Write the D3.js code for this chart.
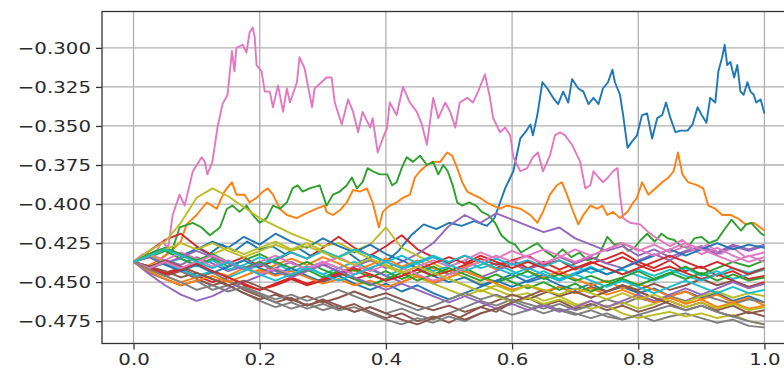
<!DOCTYPE html>
<html>
<head>
<meta charset="utf-8">
<script src="https://cdn.jsdelivr.net/npm/d3@7"></script>
<style>
  html, body { margin: 0; padding: 0; background: #fff; }
  svg { display: block; }
  text { font-family: "DejaVu Sans", sans-serif; fill: #2b2b2b; }
</style>
</head>
<body>
<svg id="chart" width="784" height="369"></svg>
<script>
// ---------- data ----------
const xTicks = [0, 0.2, 0.4, 0.6, 0.8, 1.0];
const xTickLabels = ["0.0", "0.2", "0.4", "0.6", "0.8", "1.0"];
const yTicks = [-0.475, -0.45, -0.425, -0.4, -0.375, -0.35, -0.325, -0.3];
const yTickLabels = ["\u22120.475", "\u22120.450", "\u22120.425", "\u22120.400", "\u22120.375", "\u22120.350", "\u22120.325", "\u22120.300"];
const palette = ["#1f77b4","#ff7f0e","#2ca02c","#d62728","#9467bd","#8c564b","#e377c2","#7f7f7f","#bcbd22","#17becf"];

// shared step positions for the cluster series
const stepX = [0,.025,.05,.075,.1,.125,.15,.175,.2,.225,.25,.275,.3,.325,.35,.375,.4,.425,.45,.475,.5,.525,.55,.575,.6,.625,.65,.675,.7,.725,.75,.775,.8,.825,.85,.875,.9,.925,.95,.975,1];

// prominent traced series
const blueX = [0,.02,.04,.06,.08,.10,.12,.14,.16,.18,.20,.22,.24,.26,.28,.30,.32,.34,.36,.38,.40,.42,.44,.46,.48,.50,.52,.54,.56,.572,.581,.589,.602,.613,.621,.629,.633,.640,.648,.656,.665,.673,.681,.689,.695,.705,.713,.721,.729,.737,.744,.752,.759,.763,.771,.776,.783,.790,.798,.806,.814,.822,.830,.838,.844,.851,.859,.867,.878,.886,.894,.902,.908,.914,.922,.927,.933,.937,.941,.946,.952,.957,.962,.967,.973,.978,.983,.987,.994,1];
const blueY = [-.437,-.432,-.436,-.430,-.434,-.428,-.432,-.426,-.430,-.424,-.429,-.427,-.432,-.428,-.433,-.430,-.435,-.431,-.437,-.433,-.437,-.430,-.420,-.413,-.416,-.412,-.414,-.411,-.414,-.409,-.399,-.390,-.379,-.358,-.354,-.349,-.356,-.343,-.322,-.326,-.332,-.336,-.328,-.335,-.320,-.326,-.328,-.336,-.332,-.336,-.326,-.322,-.314,-.322,-.330,-.343,-.364,-.360,-.356,-.343,-.342,-.358,-.345,-.343,-.335,-.345,-.354,-.353,-.353,-.349,-.338,-.344,-.348,-.332,-.335,-.315,-.306,-.298,-.311,-.309,-.319,-.311,-.328,-.330,-.322,-.328,-.330,-.335,-.333,-.342];

const orangeX = [0,.02,.04,.06,.075,.084,.100,.116,.132,.144,.156,.163,.176,.184,.195,.205,.213,.221,.232,.243,.259,.268,.279,.290,.303,.306,.316,.327,.338,.348,.359,.370,.379,.389,.395,.406,.417,.427,.438,.446,.454,.465,.475,.486,.497,.505,.513,.521,.529,.538,.549,.560,.570,.581,.592,.602,.613,.629,.640,.649,.660,.671,.679,.687,.695,.705,.713,.724,.735,.743,.751,.760,.771,.783,.792,.798,.806,.816,.827,.838,.848,.856,.863,.870,.879,.894,.903,.911,.922,.933,.946,.957,.970,.983,1];
const orangeY = [-.437,-.440,-.436,-.430,-.424,-.413,-.407,-.399,-.403,-.392,-.386,-.394,-.394,-.399,-.396,-.392,-.390,-.394,-.403,-.407,-.409,-.407,-.405,-.403,-.401,-.405,-.407,-.404,-.399,-.391,-.392,-.390,-.399,-.415,-.405,-.401,-.399,-.396,-.394,-.383,-.379,-.375,-.373,-.373,-.367,-.369,-.377,-.386,-.392,-.394,-.396,-.399,-.401,-.403,-.401,-.402,-.403,-.407,-.412,-.405,-.394,-.388,-.386,-.394,-.403,-.413,-.407,-.401,-.403,-.401,-.407,-.405,-.409,-.405,-.399,-.396,-.386,-.394,-.390,-.386,-.383,-.379,-.367,-.381,-.386,-.388,-.390,-.401,-.403,-.407,-.407,-.409,-.413,-.412,-.417];

const greenX = [0,.02,.04,.06,.073,.094,.108,.121,.137,.148,.157,.168,.179,.189,.200,.211,.221,.232,.243,.252,.260,.268,.279,.295,.306,.316,.327,.338,.346,.354,.363,.371,.379,.390,.402,.410,.417,.425,.433,.443,.454,.465,.475,.483,.491,.498,.506,.513,.521,.532,.543,.552,.562,.573,.583,.594,.605,.614,.627,.640,.652,.667,.680,.694,.707,.719,.735,.743,.751,.762,.773,.784,.794,.804,.814,.826,.837,.847,.857,.868,.878,.889,.900,.912,.925,.937,.948,.956,.963,.971,.979,.988,.995,1];
const greenY = [-.437,-.433,-.429,-.431,-.415,-.412,-.415,-.420,-.415,-.403,-.401,-.405,-.401,-.407,-.412,-.409,-.401,-.403,-.399,-.390,-.388,-.392,-.390,-.388,-.401,-.394,-.392,-.388,-.383,-.390,-.386,-.377,-.379,-.381,-.381,-.388,-.386,-.377,-.370,-.373,-.369,-.375,-.373,-.381,-.375,-.379,-.388,-.399,-.401,-.399,-.401,-.405,-.407,-.412,-.420,-.424,-.426,-.431,-.428,-.425,-.430,-.434,-.429,-.434,-.431,-.436,-.434,-.428,-.421,-.426,-.425,-.430,-.428,-.423,-.419,-.424,-.419,-.422,-.423,-.427,-.428,-.422,-.421,-.425,-.423,-.416,-.410,-.414,-.417,-.413,-.412,-.416,-.419,-.420];

const pinkX = [0,.015,.03,.045,.055,.062,.073,.081,.094,.108,.113,.117,.125,.133,.141,.149,.156,.160,.163,.173,.179,.184,.189,.192,.195,.203,.208,.216,.221,.229,.237,.243,.248,.259,.263,.271,.283,.287,.298,.306,.314,.319,.330,.340,.348,.356,.363,.375,.379,.387,.395,.402,.406,.417,.427,.438,.449,.457,.465,.475,.483,.494,.502,.510,.517,.529,.538,.546,.557,.565,.570,.581,.589,.597,.602,.613,.624,.633,.641,.649,.660,.668,.676,.684,.695,.708,.716,.724,.729,.737,.744,.752,.760,.767,.771,.776,.787,.803,.816,.83,.85,.87,.89,.91,.93,.95,.97,1];
const pinkY = [-.437,-.432,-.435,-.424,-.428,-.407,-.394,-.401,-.379,-.370,-.373,-.381,-.373,-.351,-.336,-.330,-.302,-.315,-.300,-.298,-.303,-.290,-.287,-.293,-.311,-.315,-.328,-.328,-.338,-.324,-.341,-.326,-.335,-.322,-.306,-.313,-.338,-.326,-.322,-.319,-.319,-.335,-.349,-.333,-.341,-.354,-.341,-.351,-.345,-.367,-.358,-.351,-.335,-.343,-.325,-.335,-.341,-.349,-.362,-.332,-.345,-.335,-.341,-.351,-.335,-.332,-.335,-.328,-.317,-.332,-.345,-.354,-.351,-.356,-.370,-.379,-.377,-.370,-.367,-.379,-.369,-.356,-.354,-.356,-.362,-.373,-.390,-.388,-.379,-.383,-.386,-.383,-.379,-.377,-.394,-.409,-.412,-.413,-.418,-.422,-.427,-.423,-.430,-.426,-.432,-.428,-.434,-.431];

const olive8 = [-.437,-.430,-.424,-.412,-.396,-.390,-.395,-.402,-.409,-.414,-.419,-.423,-.427,-.425,-.430,-.426,-.415,-.428,-.433,-.438,-.443,-.447,-.451,-.455,-.459,-.457,-.462,-.459,-.464,-.467,-.465,-.470,-.473,-.471,-.469,-.472,-.470,-.473,-.471,-.475,-.477];

// cluster series (values at stepX)
const red3 = [-.437,-.430,-.423,-.419,-.427,-.433,-.438,-.434,-.440,-.436,-.431,-.435,-.428,-.421,-.428,-.433,-.427,-.420,-.429,-.434,-.438,-.433,-.437,-.441,-.436,-.433,-.439,-.436,-.442,-.438,-.435,-.431,-.437,-.441,-.436,-.443,-.440,-.446,-.443,-.448,-.446];
const purple4 = [-.437,-.441,-.436,-.439,-.434,-.438,-.443,-.440,-.445,-.441,-.437,-.442,-.438,-.444,-.440,-.436,-.441,-.437,-.432,-.425,-.414,-.407,-.412,-.406,-.410,-.414,-.418,-.415,-.422,-.426,-.430,-.427,-.433,-.429,-.434,-.430,-.427,-.431,-.426,-.429,-.426];
const brown5 = [-.437,-.442,-.446,-.443,-.448,-.452,-.449,-.455,-.459,-.463,-.460,-.465,-.462,-.467,-.464,-.469,-.473,-.470,-.475,-.472,-.476,-.471,-.466,-.469,-.463,-.460,-.465,-.462,-.467,-.464,-.468,-.465,-.469,-.466,-.462,-.466,-.463,-.468,-.465,-.470,-.468];
const gray7 = [-.437,-.444,-.448,-.452,-.449,-.455,-.452,-.457,-.462,-.466,-.463,-.467,-.464,-.468,-.466,-.470,-.474,-.477,-.473,-.476,-.472,-.475,-.470,-.467,-.471,-.468,-.464,-.468,-.471,-.468,-.472,-.474,-.471,-.475,-.472,-.470,-.473,-.476,-.474,-.478,-.479];
const cyan9 = [-.437,-.433,-.438,-.435,-.440,-.436,-.442,-.439,-.434,-.438,-.443,-.440,-.445,-.441,-.437,-.442,-.446,-.442,-.438,-.443,-.440,-.436,-.441,-.438,-.443,-.447,-.443,-.448,-.444,-.440,-.445,-.442,-.446,-.449,-.445,-.441,-.446,-.443,-.448,-.445,-.442];
const blue10 = [-.437,-.432,-.428,-.433,-.429,-.424,-.428,-.421,-.426,-.419,-.424,-.428,-.422,-.427,-.431,-.426,-.432,-.436,-.441,-.446,-.450,-.447,-.452,-.449,-.445,-.450,-.447,-.452,-.455,-.451,-.456,-.453,-.457,-.454,-.459,-.456,-.460,-.457,-.462,-.459,-.463];
const orange11 = [-.437,-.441,-.446,-.450,-.447,-.443,-.446,-.441,-.444,-.439,-.435,-.439,-.434,-.438,-.443,-.439,-.435,-.440,-.436,-.441,-.445,-.440,-.437,-.442,-.438,-.443,-.447,-.443,-.448,-.452,-.449,-.454,-.451,-.455,-.459,-.456,-.461,-.458,-.463,-.460,-.465];
const green12 = [-.437,-.434,-.430,-.435,-.439,-.435,-.440,-.436,-.432,-.437,-.441,-.437,-.442,-.446,-.442,-.447,-.443,-.448,-.444,-.440,-.445,-.441,-.446,-.450,-.447,-.443,-.448,-.445,-.449,-.446,-.450,-.447,-.443,-.448,-.444,-.440,-.445,-.441,-.437,-.440,-.436];
const red13 = [-.437,-.440,-.444,-.441,-.446,-.450,-.447,-.452,-.455,-.451,-.447,-.451,-.448,-.444,-.448,-.445,-.449,-.446,-.442,-.446,-.443,-.439,-.435,-.439,-.436,-.441,-.437,-.442,-.438,-.434,-.438,-.434,-.439,-.443,-.440,-.444,-.448,-.445,-.449,-.453,-.450];
const purple14 = [-.437,-.445,-.452,-.458,-.462,-.459,-.454,-.450,-.446,-.442,-.446,-.441,-.437,-.441,-.445,-.441,-.446,-.450,-.446,-.451,-.447,-.443,-.447,-.443,-.438,-.442,-.438,-.434,-.438,-.434,-.438,-.441,-.436,-.432,-.436,-.431,-.428,-.432,-.427,-.430,-.427];
const brown15 = [-.437,-.440,-.443,-.447,-.444,-.448,-.452,-.457,-.461,-.458,-.462,-.459,-.463,-.460,-.456,-.460,-.457,-.461,-.465,-.468,-.465,-.469,-.466,-.462,-.458,-.461,-.457,-.453,-.457,-.453,-.456,-.452,-.455,-.451,-.455,-.452,-.448,-.452,-.449,-.453,-.451];
const pink16 = [-.437,-.432,-.436,-.431,-.435,-.440,-.436,-.441,-.437,-.433,-.438,-.442,-.438,-.434,-.439,-.443,-.439,-.444,-.440,-.436,-.440,-.436,-.431,-.435,-.430,-.434,-.438,-.434,-.429,-.433,-.429,-.425,-.430,-.426,-.431,-.427,-.432,-.428,-.433,-.437,-.434];
const gray17 = [-.437,-.441,-.438,-.443,-.447,-.444,-.449,-.454,-.458,-.463,-.467,-.464,-.468,-.465,-.469,-.466,-.470,-.467,-.471,-.474,-.470,-.466,-.462,-.465,-.461,-.464,-.467,-.464,-.468,-.465,-.461,-.464,-.460,-.463,-.459,-.462,-.458,-.461,-.464,-.461,-.463];
const olive18 = [-.437,-.433,-.437,-.441,-.437,-.432,-.428,-.432,-.428,-.424,-.429,-.425,-.430,-.434,-.430,-.435,-.439,-.443,-.447,-.451,-.455,-.459,-.455,-.459,-.463,-.460,-.464,-.461,-.465,-.462,-.466,-.463,-.467,-.464,-.460,-.463,-.459,-.456,-.460,-.457,-.459];
const cyan19 = [-.437,-.441,-.437,-.442,-.446,-.443,-.447,-.443,-.439,-.435,-.431,-.435,-.430,-.434,-.429,-.433,-.437,-.433,-.438,-.434,-.439,-.443,-.439,-.435,-.439,-.436,-.440,-.436,-.440,-.444,-.441,-.445,-.442,-.446,-.442,-.446,-.449,-.445,-.441,-.444,-.441];
const blue20 = [-.437,-.434,-.439,-.443,-.439,-.444,-.440,-.436,-.441,-.445,-.441,-.446,-.450,-.446,-.451,-.455,-.451,-.456,-.452,-.457,-.461,-.457,-.453,-.449,-.453,-.449,-.445,-.449,-.445,-.441,-.445,-.441,-.437,-.433,-.429,-.433,-.429,-.425,-.429,-.426,-.428];
const orange21 = [-.437,-.443,-.448,-.452,-.449,-.446,-.450,-.446,-.442,-.446,-.443,-.447,-.451,-.448,-.452,-.449,-.453,-.450,-.446,-.450,-.447,-.443,-.447,-.451,-.455,-.452,-.456,-.453,-.457,-.454,-.458,-.455,-.459,-.463,-.460,-.464,-.461,-.466,-.463,-.467,-.465];
const green22 = [-.437,-.432,-.428,-.432,-.436,-.432,-.437,-.441,-.437,-.442,-.446,-.442,-.447,-.443,-.448,-.452,-.448,-.444,-.449,-.445,-.441,-.445,-.449,-.445,-.450,-.454,-.450,-.455,-.451,-.456,-.452,-.448,-.452,-.448,-.444,-.448,-.444,-.449,-.445,-.449,-.447];
const red23 = [-.437,-.441,-.445,-.442,-.438,-.443,-.447,-.451,-.455,-.452,-.448,-.452,-.449,-.445,-.441,-.445,-.449,-.446,-.442,-.438,-.434,-.438,-.433,-.437,-.441,-.437,-.441,-.445,-.441,-.437,-.441,-.445,-.441,-.437,-.433,-.437,-.441,-.437,-.441,-.445,-.441];
const purple24 = [-.437,-.434,-.438,-.434,-.430,-.434,-.438,-.442,-.438,-.443,-.447,-.443,-.439,-.443,-.447,-.451,-.455,-.451,-.455,-.459,-.463,-.459,-.463,-.467,-.464,-.468,-.465,-.469,-.466,-.462,-.466,-.462,-.458,-.462,-.458,-.454,-.458,-.454,-.450,-.454,-.451];
const brown25 = [-.437,-.440,-.436,-.440,-.444,-.448,-.452,-.449,-.453,-.457,-.461,-.465,-.461,-.465,-.469,-.466,-.470,-.474,-.477,-.473,-.470,-.474,-.470,-.467,-.463,-.459,-.455,-.459,-.456,-.460,-.456,-.452,-.456,-.460,-.464,-.468,-.465,-.469,-.472,-.469,-.472];
const pink26 = [-.437,-.441,-.437,-.441,-.437,-.433,-.437,-.441,-.445,-.441,-.445,-.441,-.437,-.441,-.445,-.441,-.437,-.441,-.445,-.449,-.445,-.441,-.437,-.433,-.437,-.433,-.429,-.433,-.437,-.433,-.429,-.425,-.429,-.433,-.429,-.425,-.429,-.433,-.437,-.433,-.437];
const gray27 = [-.437,-.442,-.446,-.450,-.455,-.452,-.456,-.453,-.457,-.461,-.458,-.462,-.459,-.455,-.459,-.463,-.460,-.464,-.468,-.465,-.461,-.457,-.461,-.458,-.462,-.466,-.470,-.467,-.470,-.473,-.470,-.474,-.471,-.468,-.465,-.468,-.465,-.469,-.472,-.475,-.477];
const olive28 = [-.437,-.433,-.429,-.425,-.429,-.425,-.430,-.434,-.430,-.426,-.430,-.427,-.431,-.435,-.439,-.435,-.440,-.444,-.440,-.444,-.448,-.452,-.456,-.452,-.456,-.452,-.455,-.458,-.454,-.457,-.461,-.457,-.461,-.458,-.462,-.466,-.463,-.467,-.464,-.468,-.466];
const cyan29 = [-.437,-.433,-.429,-.433,-.437,-.441,-.437,-.441,-.445,-.449,-.445,-.441,-.445,-.449,-.445,-.441,-.437,-.441,-.437,-.433,-.437,-.433,-.437,-.441,-.445,-.441,-.445,-.449,-.445,-.449,-.453,-.449,-.453,-.457,-.453,-.449,-.453,-.457,-.453,-.457,-.455];

// series in plotting order (colour = palette[index % 10])
const seriesList = [
  [blueX, blueY], [orangeX, orangeY], [greenX, greenY], [stepX, red3], [stepX, purple4],
  [stepX, brown5], [pinkX, pinkY], [stepX, gray7], [stepX, olive8], [stepX, cyan9],
  [stepX, blue10], [stepX, orange11], [stepX, green12], [stepX, red13], [stepX, purple14],
  [stepX, brown15], [stepX, pink16], [stepX, gray17], [stepX, olive18], [stepX, cyan19],
  [stepX, blue20], [stepX, orange21], [stepX, green22], [stepX, red23], [stepX, purple24],
  [stepX, brown25], [stepX, pink26], [stepX, gray27], [stepX, olive28], [stepX, cyan29]
];

// ---------- drawing ----------
const svg = d3.select("#chart");
const W = 784, H = 369;
const plot = { left: 102, top: 11.5, right: 796, bottom: 343.5 };

svg.append("rect").attr("width", W).attr("height", H).attr("fill", "#fff");

const x = d3.scaleLinear().domain([-0.05, 1.05]).range([plot.left, plot.right]);
const y = d3.scaleLinear().domain([-0.4893, -0.2767]).range([plot.bottom, plot.top]);

svg.append("clipPath").attr("id", "clip")
  .append("rect").attr("x", plot.left).attr("y", plot.top)
  .attr("width", plot.right - plot.left).attr("height", plot.bottom - plot.top);

// grid
const grid = svg.append("g");
grid.selectAll("line.gx").data(xTicks).join("line")
  .attr("x1", d => x(d)).attr("x2", d => x(d))
  .attr("y1", plot.top).attr("y2", plot.bottom)
  .attr("stroke", "#b0b0b0").attr("stroke-width", 1.3);
grid.selectAll("line.gy").data(yTicks).join("line")
  .attr("x1", plot.left).attr("x2", plot.right)
  .attr("y1", d => y(d)).attr("y2", d => y(d))
  .attr("stroke", "#b0b0b0").attr("stroke-width", 1.3);

// lines
const line = d3.line().x(d => x(d[0])).y(d => y(d[1]));
const lines = svg.append("g").attr("clip-path", "url(#clip)");
seriesList.forEach(([xs, ys], i) => {
  lines.append("path")
    .datum(d3.zip(xs, ys))
    .attr("d", line)
    .attr("fill", "none")
    .attr("stroke", palette[i % 10])
    .attr("stroke-width", 1.9)
    .attr("stroke-linejoin", "round");
});

// frame (right spine lies outside the picture)
svg.append("rect")
  .attr("x", plot.left).attr("y", plot.top)
  .attr("width", plot.right - plot.left).attr("height", plot.bottom - plot.top)
  .attr("fill", "none").attr("stroke", "#333").attr("stroke-width", 1.3);

// axes
const xAxis = d3.axisBottom(x).tickValues(xTicks).tickFormat((d, i) => xTickLabels[i]).tickSize(6).tickPadding(4);
const yAxis = d3.axisLeft(y).tickValues(yTicks).tickFormat((d, i) => yTickLabels[i]).tickSize(6).tickPadding(5);

const gx = svg.append("g").attr("transform", `translate(0,${plot.bottom})`).call(xAxis);
const gy = svg.append("g").attr("transform", `translate(${plot.left},0)`).call(yAxis);
[gx, gy].forEach(g => {
  g.select(".domain").remove();
  g.selectAll(".tick line").attr("stroke", "#333").attr("stroke-width", 1.3);
  g.selectAll(".tick text")
    .attr("font-family", "DejaVu Sans, sans-serif")
    .attr("font-size", 16.5)
    .attr("fill", "#2b2b2b");
});
// the reference's lettering is stretched horizontally
gy.selectAll(".tick text").each(function () {
  const t = d3.select(this);
  const xx = +t.attr("x");
  t.attr("x", null).attr("transform", `translate(${xx},0) scale(1.2,1)`);
});
gx.selectAll(".tick text").each(function () {
  const t = d3.select(this);
  t.attr("transform", "scale(1.2,1)").attr("x", 0);
});
</script>
</body>
</html>
